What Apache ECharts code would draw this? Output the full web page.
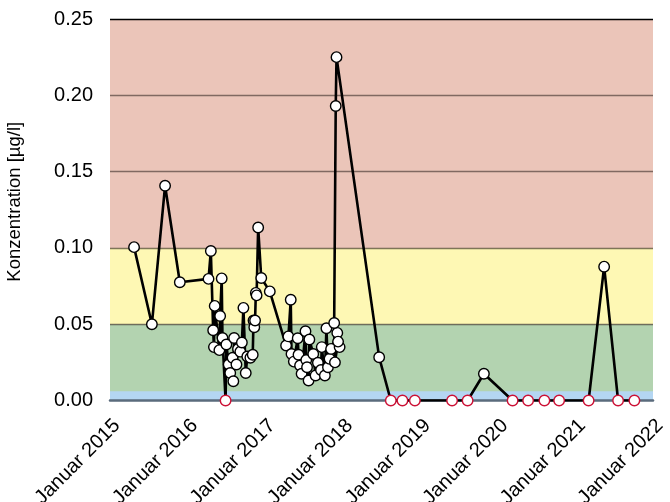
<!DOCTYPE html>
<html>
<head>
<meta charset="utf-8">
<script src="https://cdn.jsdelivr.net/npm/echarts@6/dist/echarts.min.js"></script>
<style>
html,body{margin:0;padding:0;background:#fff;}
#chart{width:670px;height:502px;}
</style>
</head>
<body>
<div id="chart"></div>
<script>
// Sampling dates as decimal years
var years = [
  2015.31, 2015.54, 2015.71, 2015.90,
  2016.27, 2016.30, 2016.33, 2016.34, 2016.35, 2016.41, 2016.42, 2016.44, 2016.45, 2016.49, 2016.50,
  2016.53, 2016.55, 2016.58, 2016.59, 2016.60, 2016.63, 2016.65, 2016.68, 2016.70, 2016.72, 2016.75,
  2016.77, 2016.81, 2016.84, 2016.85, 2016.86, 2016.87, 2016.88, 2016.89, 2016.91, 2016.95, 2017.06,
  2017.27, 2017.30, 2017.33, 2017.34, 2017.37, 2017.42, 2017.43, 2017.45, 2017.47, 2017.52, 2017.53,
  2017.54, 2017.56, 2017.57, 2017.62, 2017.65, 2017.68, 2017.72, 2017.73, 2017.77, 2017.79, 2017.81,
  2017.83, 2017.85, 2017.93, 2017.96, 2017.94, 2017.90, 2017.89, 2017.91, 2017.92,
  2018.47, 2018.62, 2018.77, 2018.93, 2019.41, 2019.61, 2019.82, 2020.19, 2020.39, 2020.60, 2020.79,
  2021.17, 2021.37, 2021.55, 2021.76
];
// Concentration in µg/l (0 = below detection limit)
var concentration = [
  0.1005, 0.050, 0.1407, 0.0775,
  0.0797, 0.098, 0.046, 0.035, 0.062, 0.033, 0.0554, 0.080, 0.041, 0, 0.0367,
  0.0236, 0.018, 0.028, 0.0126, 0.041, 0.0236, 0.0338, 0.032, 0.038, 0.0607, 0.018,
  0.0288, 0.028, 0.030, 0.0524, 0.048, 0.0524, 0.0705, 0.0689, 0.1134, 0.0803, 0.0715,
  0.036, 0.042, 0.066, 0.0305, 0.0255, 0.0408, 0.030, 0.0229, 0.0175, 0.0454, 0.0265,
  0.0218, 0.0131, 0.040, 0.0305, 0.0164, 0.0247, 0.020, 0.035, 0.0164, 0.0473, 0.0218,
  0.0273, 0.0338, 0.0443, 0.035, 0.0386, 0.025, 0.0508, 0.193, 0.225,
  0.0283, 0, 0, 0, 0, 0, 0.0175, 0, 0, 0, 0,
  0, 0.0877, 0, 0
];
var yearTicks = [2015, 2016, 2017, 2018, 2019, 2020, 2021, 2022];
var yTicks = [0, 0.05, 0.10, 0.15, 0.20, 0.25];
var blueBand = [0, 0.006];

var points = years.map(function (y, i) {
  var v = concentration[i];
  var p = { value: [y, v] };
  if (v === 0) p.itemStyle = { borderColor: '#cc1136' };
  return p;
});

var chart = echarts.init(document.getElementById('chart'), null, { renderer: 'canvas' });
var font = 'Liberation Sans, Arial, Helvetica, sans-serif';
chart.setOption({
  animation: false,
  backgroundColor: '#ffffff',
  grid: { left: 110, right: 17, top: 19, bottom: 101.5, containLabel: false, outerBoundsMode: 'none' },
  xAxis: {
    type: 'value',
    min: yearTicks[0],
    max: yearTicks[yearTicks.length - 1],
    interval: 1,
    z: 4,
    axisLine: { show: true, lineStyle: { color: '#5a6b7c', width: 2.5 } },
    axisTick: { show: false },
    splitLine: { show: false },
    axisLabel: {
      rotate: 45,
      margin: 15,
      verticalAlign: 'top',
      fontSize: 20,
      color: '#000',
      fontFamily: font,
      formatter: function (v) { return 'Januar ' + v; }
    }
  },
  yAxis: {
    type: 'value',
    min: yTicks[0],
    max: yTicks[yTicks.length - 1],
    interval: 0.05,
    name: 'Konzentration [µg/l]',
    nameLocation: 'middle',
    nameGap: 86,
    nameTextStyle: { fontSize: 18.5, color: '#000', fontFamily: font, padding: [0, 0, 0, 16] },
    axisLine: { show: false },
    axisTick: { show: false },
    axisLabel: {
      margin: 17,
      fontSize: 20,
      color: '#000',
      fontFamily: font,
      formatter: function (v) { return v.toFixed(2); }
    },
    splitLine: {
      show: true,
      lineStyle: {
        color: ['rgba(0,0,0,0)', 'rgba(40,30,25,0.6)', 'rgba(40,30,25,0.6)', 'rgba(40,30,25,0.55)', 'rgba(40,30,25,0.55)', '#000'],
        width: 1.3
      }
    },
    splitArea: {
      show: true,
      areaStyle: { color: ['#b3d3b0', '#fef8b4', '#ebc5b9', '#ebc5b9', '#ebc5b9'] }
    }
  },
  series: [
    {
      type: 'line',
      data: [],
      z: 1,
      silent: true,
      markArea: {
        silent: true,
        itemStyle: { color: '#b4d6f2' },
        data: [[{ yAxis: blueBand[0] }, { yAxis: blueBand[1] }]]
      }
    },
    {
      type: 'line',
      z: 5,
      data: points,
      symbol: 'circle',
      symbolSize: 10.5,
      showAllSymbol: true,
      lineStyle: { color: '#000', width: 2.6 },
      itemStyle: { color: '#ffffff', borderColor: '#000', borderWidth: 1.4 }
    }
  ]
});
</script>
</body>
</html>
